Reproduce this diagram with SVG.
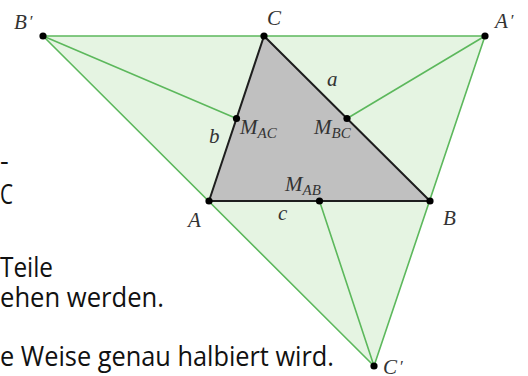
<svg xmlns="http://www.w3.org/2000/svg" width="528" height="376" viewBox="0 0 528 376">
<style>
.bg{fill:#ffffff}
.big{fill:#e5f4e2;stroke:none}
.tri{fill:#c0c0c0;stroke:none}
.g{stroke:#5cb85c;stroke-width:1.6;fill:none;stroke-linecap:round}
.k{stroke:#1e1e1e;stroke-width:2;fill:none;stroke-linecap:round}
.pt{fill:#000000}
.lbl{font-family:"Liberation Serif","DejaVu Serif",serif;font-style:italic;font-size:21px;fill:#333333}
.sub{font-size:15px}
.doc{font-family:"Open Sans","Liberation Sans",sans-serif;font-size:27px;fill:#111111}
</style>
<rect class="bg" x="0" y="0" width="528" height="376"/>
<g id="page-text">
<text class="doc" x="0" y="170">-</text>
<text class="doc" x="0" y="204" textLength="13" lengthAdjust="spacingAndGlyphs">C</text>
<text class="doc" x="0" y="277" textLength="53" lengthAdjust="spacingAndGlyphs">Teile</text>
<text class="doc" x="0" y="307" textLength="164" lengthAdjust="spacingAndGlyphs">ehen werden.</text>
<text class="doc" x="0" y="366" textLength="334" lengthAdjust="spacingAndGlyphs">e Weise genau halbiert wird.</text>
</g>
<g id="areas">
<polygon class="big" points="43,36 485,36 374,366"/>
<polygon class="tri" points="209,201 264,36 430,201"/>
</g>
<g id="connectors">
<line class="g" x1="43" y1="36" x2="485" y2="36"/>
<line class="g" x1="43" y1="36" x2="374" y2="366"/>
<line class="g" x1="485" y1="36" x2="374" y2="366"/>
<line class="g" x1="43" y1="36" x2="236.5" y2="118.5"/>
<line class="g" x1="485" y1="36" x2="347" y2="118.5"/>
<line class="g" x1="374" y1="366" x2="319.5" y2="201"/>
<line class="k" x1="209" y1="201" x2="264" y2="36"/>
<line class="k" x1="264" y1="36" x2="430" y2="201"/>
<line class="k" x1="209" y1="201" x2="430" y2="201"/>
<text class="lbl" x="327" y="86">a</text>
<text class="lbl" x="209" y="143">b</text>
<text class="lbl" x="278" y="220">c</text>
</g>
<g id="node-Bp"><circle class="pt" cx="43" cy="36" r="3.6"/><text class="lbl" x="14" y="29">B<tspan dx="3" dy="-2" font-style="normal" font-size="17">′</tspan></text></g>
<g id="node-C"><circle class="pt" cx="264" cy="36" r="3.6"/><text class="lbl" x="267" y="25">C</text></g>
<g id="node-Ap"><circle class="pt" cx="485" cy="36" r="3.6"/><text class="lbl" x="495" y="28">A<tspan dx="3" dy="-2" font-style="normal" font-size="17">′</tspan></text></g>
<g id="node-A"><circle class="pt" cx="209" cy="201" r="3.6"/><text class="lbl" x="188" y="227">A</text></g>
<g id="node-B"><circle class="pt" cx="430" cy="201" r="3.6"/><text class="lbl" x="443" y="225">B</text></g>
<g id="node-Cp"><circle class="pt" cx="374" cy="366" r="3.6"/><text class="lbl" x="383" y="374">C<tspan dx="3" dy="-2" font-style="normal" font-size="17">′</tspan></text></g>
<g id="node-MAC"><circle class="pt" cx="236.5" cy="118.5" r="3.6"/><text class="lbl" x="240" y="134">M<tspan class="sub" dy="4">AC</tspan></text></g>
<g id="node-MBC"><circle class="pt" cx="347" cy="118.5" r="3.6"/><text class="lbl" x="314" y="134">M<tspan class="sub" dy="4">BC</tspan></text></g>
<g id="node-MAB"><circle class="pt" cx="319.5" cy="201" r="3.6"/><text class="lbl" x="285" y="191">M<tspan class="sub" dy="4">AB</tspan></text></g>
</svg>
